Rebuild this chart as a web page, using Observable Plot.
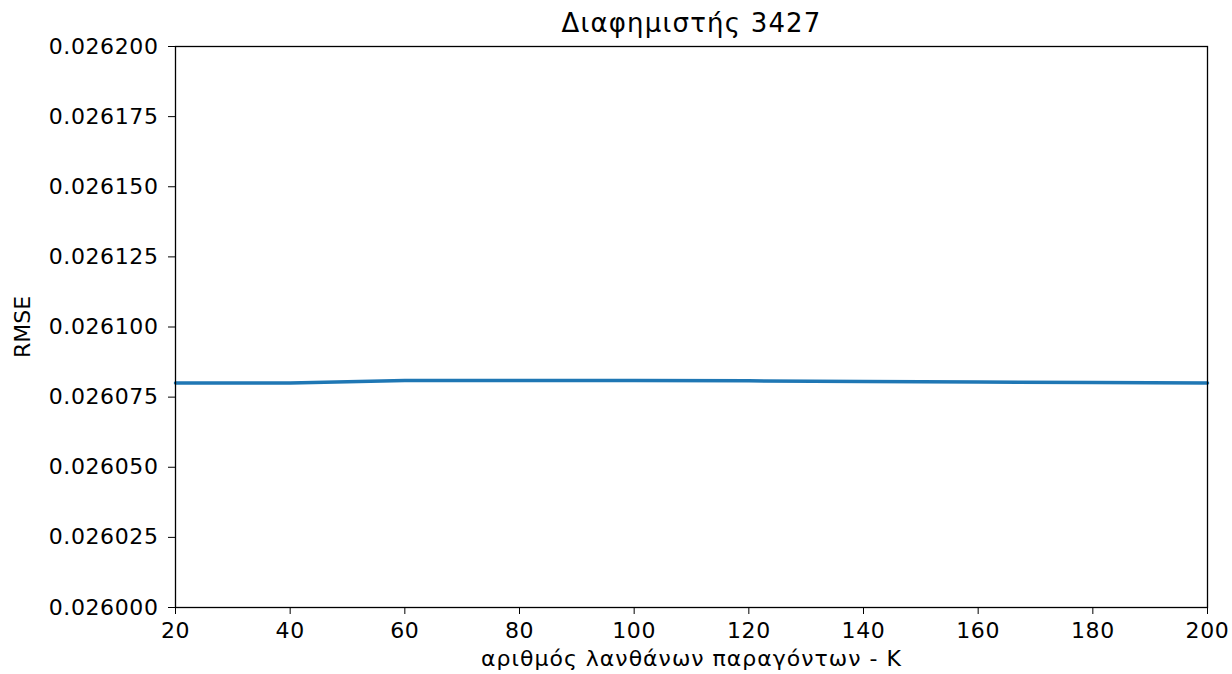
<!DOCTYPE html>
<html>
<head>
<meta charset="utf-8">
<script src="https://cdn.jsdelivr.net/npm/d3@7"></script>
<script src="https://cdn.jsdelivr.net/npm/@observablehq/plot@0.6"></script>
<style>
  html, body { margin: 0; padding: 0; background: #fff; }
</style>
</head>
<body>
<div id="chart"></div>
<script>
const titleText = "Διαφημιστής 3427";
const xLabel = "αριθμός λανθάνων παραγόντων - K";
const yLabel = "RMSE";
const kValues = [20, 40, 60, 80, 100, 120, 140, 160, 180, 200];
const rmseValues = [0.0260800, 0.0260800, 0.0260809, 0.0260809, 0.0260809, 0.0260808, 0.0260806, 0.0260804, 0.0260802, 0.0260800];
const xTicks = [20, 40, 60, 80, 100, 120, 140, 160, 180, 200];
const yTicks = [0.026000, 0.026025, 0.026050, 0.026075, 0.026100, 0.026125, 0.026150, 0.026175, 0.026200];

const data = kValues.map((k, i) => ({k, rmse: rmseValues[i]}));

const chart = Plot.plot({
  width: 1232,
  height: 674,
  marginLeft: 175,
  marginRight: 25,
  marginTop: 46,
  marginBottom: 67,
  style: {fontFamily: "DejaVu Sans", fontSize: "22px", color: "#000", background: "#fff"},
  x: {domain: [20, 200]},
  y: {domain: [0.026, 0.0262]},
  marks: [
    Plot.line(data, {x: "k", y: "rmse", stroke: "#1f77b4", strokeWidth: 3.5, curve: "linear"}),
    Plot.frame({stroke: "#000", strokeWidth: 1.3}),
    Plot.axisX({ticks: xTicks, tickSize: 7, tickPadding: 8, tickFormat: d3.format("d"), label: null, fontSize: 22, className: "xax"}),
    Plot.axisY({ticks: yTicks, tickSize: 7, tickPadding: 10, tickFormat: d3.format(".6f"), label: null, fontSize: 22, className: "yax"}),
    Plot.text([xLabel], {frameAnchor: "bottom", dy: 58, text: d => d, fontSize: 22, className: "xlab"}),
    Plot.text([yLabel], {frameAnchor: "left", dx: -153, rotate: -90, textAnchor: "middle", text: d => d, fontSize: 22}),
    Plot.text([titleText], {frameAnchor: "top", dy: -33, text: d => d, fontSize: 26, className: "ttl"})
  ]
});
d3.select(chart).selectAll(".xax text, .yax text").style("letter-spacing", "0.6px");
d3.select(chart).selectAll(".xlab text").style("letter-spacing", "1px");
d3.select(chart).selectAll(".ttl text").style("letter-spacing", "1.2px");
document.getElementById("chart").appendChild(chart);
</script>
</body>
</html>
